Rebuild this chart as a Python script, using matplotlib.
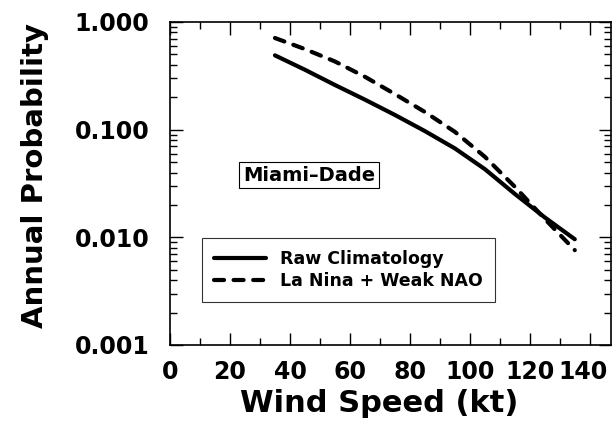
import numpy as np
import matplotlib
matplotlib.use("Agg")
import matplotlib.pyplot as plt
import matplotlib.transforms as mtransforms
from matplotlib.ticker import FixedLocator, LogLocator, NullFormatter

# Wind speed (kt) and annual exceedance probability
wind_speed = [35, 45, 55, 65, 75, 85, 95, 105, 115, 125, 135]
raw_climatology = [0.49, 0.36, 0.26, 0.19, 0.137, 0.097, 0.067, 0.043, 0.0253, 0.0153, 0.0096]
la_nina_weak_nao = [0.71, 0.56, 0.43, 0.31, 0.214, 0.146, 0.0955, 0.056, 0.0295, 0.0148, 0.0076]

x_ticks = [0, 20, 40, 60, 80, 100, 120, 140]
x_minor = [10, 30, 50, 70, 90, 110, 130]
y_ticks = [0.001, 0.01, 0.1, 1.0]
y_tick_labels = ["0.001", "0.010", "0.100", "1.000"]

plt.rcParams["font.family"] = ["DejaVu Sans"]
plt.rcParams["font.weight"] = "bold"

fig = plt.figure(figsize=(6.12, 4.23), dpi=100)
ax = fig.add_axes([0.2778, 0.1844, 0.7202, 0.7636])

ax.plot(wind_speed, raw_climatology, color="black", lw=3.0, solid_capstyle="round",
        label="Raw Climatology")
ax.plot(wind_speed, la_nina_weak_nao, color="black", lw=3.0, dashes=(2.4, 2.3),
        dash_capstyle="round", label="La Nina + Weak NAO")

ax.set_yscale("log")
ax.set_xlim(0, 147)
ax.set_ylim(0.001, 1.0)

ax.xaxis.set_major_locator(FixedLocator(x_ticks))
ax.xaxis.set_minor_locator(FixedLocator(x_minor))
ax.yaxis.set_major_locator(FixedLocator(y_ticks))
ax.yaxis.set_minor_locator(LogLocator(base=10, subs=np.arange(2, 10)))
ax.yaxis.set_minor_formatter(NullFormatter())
ax.set_yticklabels(y_tick_labels)

ax.tick_params(which="both", direction="in", top=True, right=True, width=1.0)
ax.tick_params(which="major", length=9, labelsize=17)
ax.tick_params(which="minor", length=5)
ax.tick_params(axis="y", which="major", pad=15)
ax.tick_params(axis="x", which="major", pad=11)
for lab in ax.get_xticklabels() + ax.get_yticklabels():
    lab.set_fontweight("bold")

# last x label sits at the right edge of the figure, nudge it inward a little
last = ax.get_xticklabels()[-1]
last.set_transform(last.get_transform() +
                   mtransforms.ScaledTranslation(-7 / 100, 0, fig.dpi_scale_trans))

for spine in ax.spines.values():
    spine.set_linewidth(1.2)

ax.set_xlabel("Wind Speed (kt)", fontsize=22, fontweight="bold")
ax.set_ylabel("Annual Probability", fontsize=21, fontweight="bold")
ax.xaxis.set_label_coords(0.474, -0.135)
ax.yaxis.set_label_coords(-0.275, 0.525)

ax.text(0.166, 0.526, "Miami\u2013Dade", transform=ax.transAxes, fontsize=14,
        fontweight="bold", va="center", ha="left",
        bbox=dict(boxstyle="square,pad=0.2", fc="white", ec="black", lw=0.8))

leg = ax.legend(loc="lower left", bbox_to_anchor=(0.0726, 0.133), borderaxespad=0,
                fontsize=12.5, frameon=True, fancybox=False, handlelength=3.0,
                handletextpad=0.8, labelspacing=0.2, borderpad=0.7)
leg.get_frame().set_edgecolor("black")
leg.get_frame().set_linewidth(0.8)
for t in leg.get_texts():
    t.set_fontweight("bold")

fig.savefig("out.png", dpi=100)
